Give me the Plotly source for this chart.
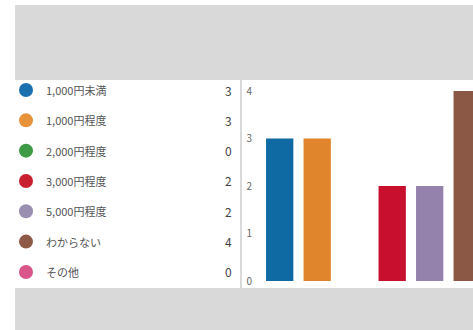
import plotly.graph_objects as go

# Survey answers: price range and number of responses
categories = ["1,000円未満", "1,000円程度", "2,000円程度", "3,000円程度",
              "5,000円程度", "わからない", "その他"]
counts = [3, 3, 0, 2, 2, 4, 0]
dot_colors = ["#1a6fae", "#e8923a", "#3f9a45", "#c8202f", "#9a8fb0", "#8e5a47", "#d9558a"]
bar_colors = ["#0f6aa3", "#e0852c", "#3f9a45", "#c8102e", "#9482ad", "#8a5845", "#d9558a"]
y_ticks = [0, 1, 2, 3, 4]

W, H = 473, 330
FONT = "Noto Sans CJK JP, Noto Sans, sans-serif"


def fx(px):
    return px / W


def fy(py):
    return 1 - py / H


rows = list(range(len(categories)))

fig = go.Figure()

# Bar chart
fig.add_trace(go.Bar(
    x=rows, y=counts, marker=dict(color=bar_colors, line=dict(width=0)),
    xaxis="x", yaxis="y", hoverinfo="skip", showlegend=False,
))

# Legend table: colored dots
fig.add_trace(go.Scatter(
    x=[11] * len(rows), y=rows, mode="markers",
    marker=dict(size=14, color=dot_colors, line=dict(width=0)),
    xaxis="x2", yaxis="y2", hoverinfo="skip", showlegend=False,
))

annotations = []
for i, (name, n) in enumerate(zip(categories, counts)):
    annotations.append(dict(
        x=29, y=i, xref="x2", yref="y2", text=name, showarrow=False,
        xanchor="left", yanchor="middle",
        font=dict(family=FONT, size=11, color="#555555"),
    ))
    annotations.append(dict(
        x=219, y=i, xref="x2", yref="y2", text=str(n), showarrow=False,
        xanchor="right", yanchor="middle",
        font=dict(family=FONT, size=12, color="#444444"),
    ))

shapes = [
    # grey backdrop
    dict(type="rect", xref="paper", yref="paper", x0=fx(15), x1=1.0, y0=0, y1=fy(5),
         fillcolor="#d9d9d9", line=dict(width=0), layer="below"),
    # table panel
    dict(type="rect", xref="paper", yref="paper", x0=fx(15), x1=fx(240), y0=fy(288), y1=fy(80),
         fillcolor="#ffffff", line=dict(width=0), layer="below"),
    # chart panel
    dict(type="rect", xref="paper", yref="paper", x0=fx(242), x1=1.0, y0=fy(288), y1=fy(80),
         fillcolor="#ffffff", line=dict(width=0), layer="below"),
]

fig.update_layout(
    width=W, height=H,
    margin=dict(l=0, r=0, t=0, b=0),
    paper_bgcolor="#ffffff", plot_bgcolor="rgba(0,0,0,0)",
    bargap=0.272,
    shapes=shapes, annotations=annotations,
    xaxis=dict(domain=[fx(256), 1.0], range=[-0.632, 5.155],
               showgrid=False, zeroline=False, showticklabels=False, showline=False, fixedrange=True),
    yaxis=dict(domain=[fy(288), fy(80)], range=[-0.147, 4.232],
               tickvals=y_ticks, ticktext=[str(v) for v in y_ticks],
               tickfont=dict(family=FONT, size=10, color="#666666"),
               ticks="", ticklabelstandoff=3,
               showgrid=False, zeroline=False, showline=False, fixedrange=True),
    xaxis2=dict(domain=[fx(15), fx(240)], range=[0, 225], visible=False, fixedrange=True),
    yaxis2=dict(domain=[fy(288), fy(80)], range=[6.53, -0.33], visible=False, fixedrange=True,
                anchor="x2"),
)
fig.update_layout(xaxis2_anchor="y2")

fig.write_html("out.html")
